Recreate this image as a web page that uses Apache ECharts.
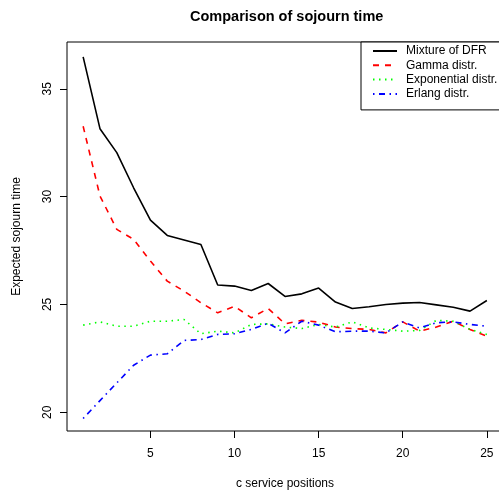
<!DOCTYPE html>
<html>
<head>
<meta charset="utf-8">
<script src="https://cdn.jsdelivr.net/npm/echarts@6/dist/echarts.min.js"></script>
<style>
  html, body { margin: 0; padding: 0; overflow: hidden; background: #fff; }
  #chart { width: 520px; height: 495px; }
</style>
</head>
<body>
<div id="chart"></div>
<script>
var positions = [1, 2, 3, 4, 5, 6, 7, 8, 9, 10, 11, 12, 13, 14, 15, 16, 17, 18, 19, 20, 21, 22, 23, 24, 25];
var mixture = [36.48, 33.15, 32.04, 30.41, 28.91, 28.20, 27.99, 27.78, 25.90, 25.85, 25.65, 25.97, 25.37, 25.49, 25.76, 25.11, 24.81, 24.89, 25.00, 25.06, 25.09, 24.98, 24.87, 24.69, 25.18];
var gamma = [33.26, 30.03, 28.48, 28.02, 27.01, 26.08, 25.62, 25.08, 24.61, 24.91, 24.38, 24.81, 24.10, 24.26, 24.18, 23.95, 23.88, 23.84, 23.68, 24.19, 23.76, 23.95, 24.22, 23.84, 23.53];
var expon = [24.04, 24.19, 23.99, 23.99, 24.22, 24.22, 24.30, 23.64, 23.76, 23.68, 24.07, 24.10, 23.95, 23.88, 24.07, 23.95, 24.19, 23.91, 23.84, 23.76, 23.79, 24.26, 24.22, 23.84, 23.61];
var erlang = [19.71, 20.54, 21.36, 22.18, 22.65, 22.71, 23.33, 23.37, 23.61, 23.64, 23.84, 24.13, 23.68, 24.22, 24.04, 23.73, 23.76, 23.76, 23.68, 24.19, 23.91, 24.15, 24.19, 24.07, 23.99];
var xTicks = [5, 10, 15, 20, 25];
var yTicks = [20, 25, 30, 35];
var names = ["Mixture of DFR", "Gamma distr.", "Exponential distr.", "Erlang distr."];

var font = "Liberation Sans";

function pairs(vals) {
  return positions.map(function (p, i) { return [p, vals[i]]; });
}

function line(name, vals, color, dash) {
  return {
    name: name,
    type: "line",
    data: pairs(vals),
    showSymbol: false,
    symbol: "none",
    lineStyle: { color: color, width: 1.6, type: dash, cap: "butt" },
    itemStyle: { color: color }
  };
}

var chart = echarts.init(document.getElementById("chart"), null, { renderer: "canvas" });
var option = {
  animation: false,
  title: {
    text: "Comparison of sojourn time",
    left: 185,
    top: 4,
    textStyle: { fontFamily: font, fontSize: 14.5, fontWeight: "bold", color: "#000" }
  },
  legend: {
    orient: "vertical",
    left: 361,
    top: 42,
    padding: [3, 40, 10, 11],
    itemWidth: 24,
    itemHeight: 14,
    itemGap: 2.3,
    borderColor: "#000",
    borderWidth: 1,
    backgroundColor: "#fff",
    itemStyle: { opacity: 0 },
    data: names,
    textStyle: { fontFamily: font, fontSize: 12, color: "#000", padding: [0, 0, 0, 4] }
  },
  grid: {
    left: 67, top: 42, right: 17, bottom: 64,
    show: true, borderColor: "#000", borderWidth: 1, backgroundColor: "transparent"
  },
  xAxis: {
    type: "value",
    min: 0.04,
    max: 25.96,
    name: "c service positions",
    nameLocation: "middle",
    nameGap: 47,
    nameTextStyle: { fontFamily: font, fontSize: 12, color: "#000" },
    axisLine: { show: false },
    splitLine: { show: false },
    axisTick: { show: true, inside: false, length: 7, customValues: xTicks, lineStyle: { color: "#000", width: 1 } },
    axisLabel: { customValues: xTicks, margin: 17, fontFamily: font, fontSize: 12, color: "#000" }
  },
  yAxis: {
    type: "value",
    min: 19.13,
    max: 37.17,
    name: "Expected sojourn time",
    nameLocation: "middle",
    nameGap: 44,
    nameRotate: 90,
    nameTextStyle: { fontFamily: font, fontSize: 12, color: "#000" },
    axisLine: { show: false },
    splitLine: { show: false },
    axisTick: { show: true, inside: false, length: 7, customValues: yTicks, lineStyle: { color: "#000", width: 1 } },
    axisLabel: { customValues: yTicks, rotate: 90, margin: 13, fontFamily: font, fontSize: 12, color: "#000" }
  },
  series: [
    line(names[0], mixture, "#000000", "solid"),
    line(names[1], gamma, "#ff0000", [6, 6]),
    line(names[2], expon, "#00ff00", [1.5, 4.5]),
    line(names[3], erlang, "#0000ff", [1.5, 4.5, 6, 4.5])
  ]
};
chart.setOption(option);
</script>
</body>
</html>
